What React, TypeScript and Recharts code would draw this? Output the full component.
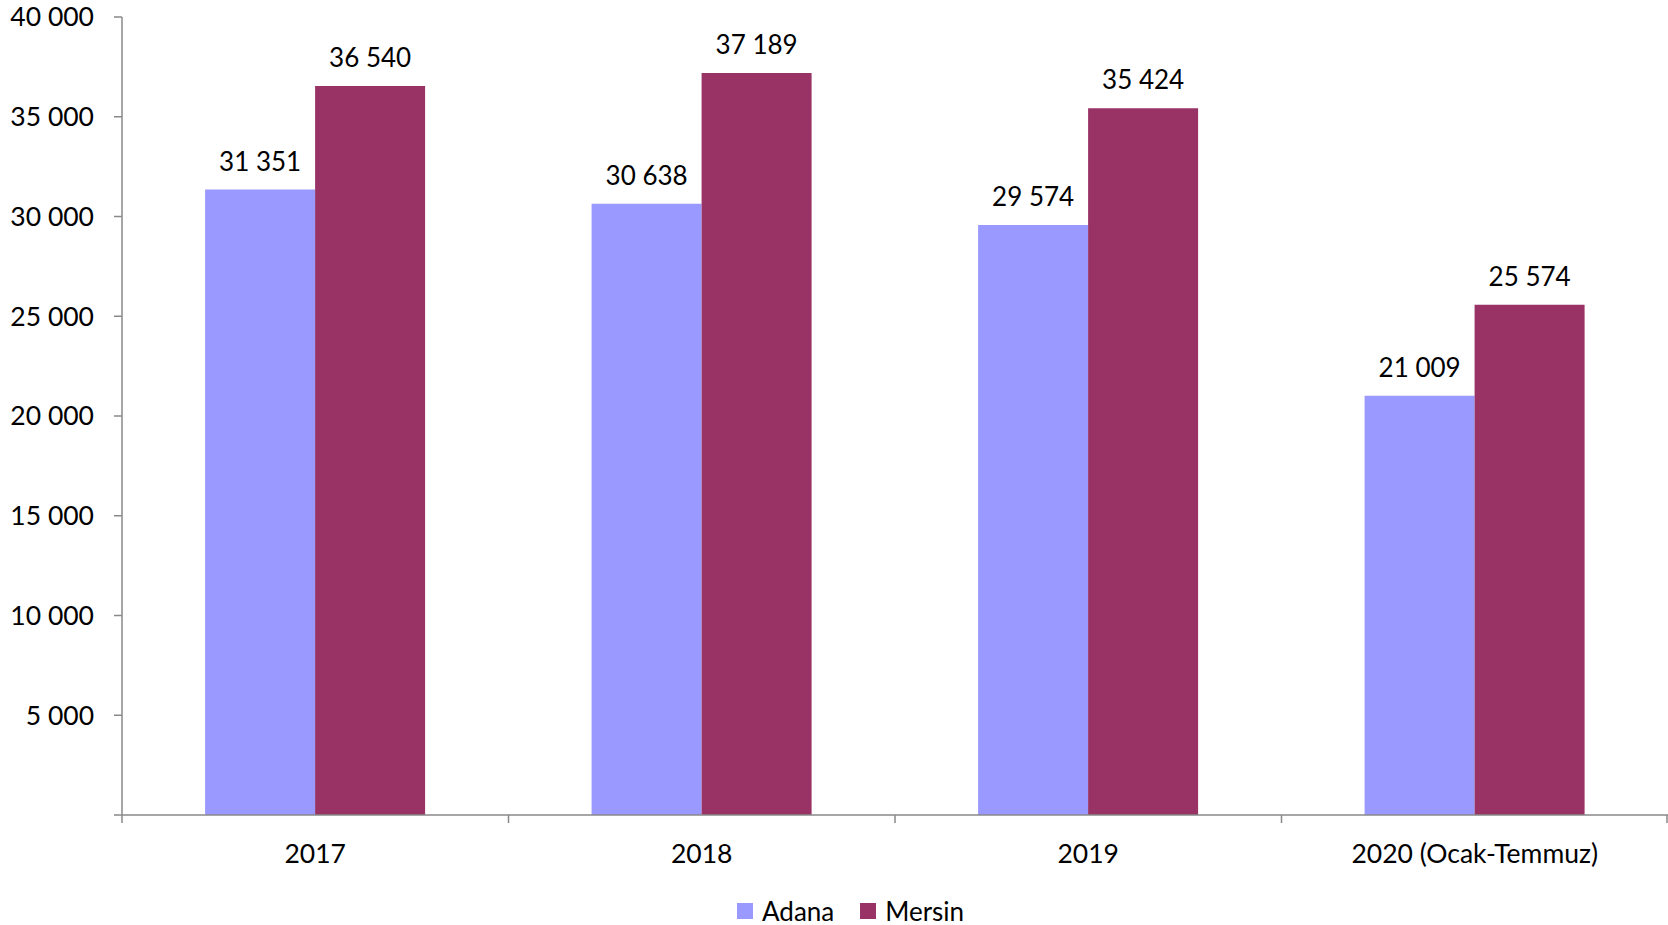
import React from 'react'
import { BarChart, Bar, XAxis, YAxis, Legend, LabelList } from 'recharts'

const categories = ['2017', '2018', '2019', '2020 (Ocak-Temmuz)']
const adana = [31351, 30638, 29574, 21009]
const mersin = [36540, 37189, 35424, 25574]
const yTicks = [0, 5000, 10000, 15000, 20000, 25000, 30000, 35000, 40000]

const W = 1668
const H = 925
const Y_AXIS_W = 122
const TICK_SIZE = 8
const TICK_MARGIN = 20
const FONT = 'Lato, "Open Sans", sans-serif'
const AXIS_COLOR = '#898989'
const ADANA_COLOR = '#9999FF'
const MERSIN_COLOR = '#993366'

const data = categories.map((name, i) => ({ name, Adana: adana[i], Mersin: mersin[i] }))

const fmt = (v: number) => String(v).replace(/\B(?=(\d{3})+(?!\d))/g, ' ')

const bandWidth = (W - Y_AXIS_W) / categories.length

function XTick(props: any) {
  const { x, y, payload, index } = props
  const axisY = y - TICK_MARGIN - TICK_SIZE
  const left = x - bandWidth / 2
  return (
    <g>
      <line x1={left} x2={left} y1={axisY} y2={axisY + TICK_SIZE} stroke={AXIS_COLOR} strokeWidth={1.5} />
      {index === categories.length - 1 && (
        <line x1={x + bandWidth / 2 - 1} x2={x + bandWidth / 2 - 1} y1={axisY} y2={axisY + TICK_SIZE} stroke={AXIS_COLOR} strokeWidth={1.5} />
      )}
      <text x={x} y={y + 1} dy="0.71em" textAnchor="middle" fontFamily={FONT} fontSize={26.5} fill="#000">
        {payload.value}
      </text>
    </g>
  )
}

function LegendContent() {
  const items = [
    { label: 'Adana', color: ADANA_COLOR },
    { label: 'Mersin', color: MERSIN_COLOR },
  ]
  return (
    <div style={{ display: 'flex', alignItems: 'center', fontFamily: FONT, fontSize: 26, color: '#000' }}>
      {items.map((it) => (
        <div key={it.label} style={{ display: 'flex', alignItems: 'center', marginRight: 26 }}>
          <span style={{ width: 16, height: 16, background: it.color, display: 'inline-block', marginRight: 9 }} />
          <span>{it.label}</span>
        </div>
      ))}
    </div>
  )
}

export default function App() {
  return (
    <div style={{ position: 'absolute', left: 0, top: 0, background: '#fff' }}>
      <BarChart
        width={W}
        height={H}
        data={data}
        margin={{ top: 17, right: 0, bottom: 40, left: 0 }}
        barCategoryGap="21.5%"
        barGap={0}
      >
        <YAxis
          width={Y_AXIS_W}
          domain={[0, 40000]}
          ticks={yTicks}
          interval={0}
          tickFormatter={(v: number) => (v === 0 ? '' : fmt(v))}
          axisLine={{ stroke: AXIS_COLOR, strokeWidth: 1.5 }}
          tickLine={{ stroke: AXIS_COLOR, strokeWidth: 1.5 }}
          tickSize={TICK_SIZE}
          tickMargin={TICK_MARGIN}
          tick={{ fontFamily: FONT, fontSize: 26.5, fill: '#000' }}
        />
        <XAxis
          dataKey="name"
          height={70}
          interval={0}
          axisLine={{ stroke: AXIS_COLOR, strokeWidth: 1.5 }}
          tickLine={false}
          tickSize={TICK_SIZE}
          tickMargin={TICK_MARGIN}
          tick={<XTick />}
        />
        <Legend
          verticalAlign="middle"
          layout="horizontal"
          content={<LegendContent />}
          wrapperStyle={{ top: 895, left: 737, width: 'auto', height: 32 }}
        />
        <Bar dataKey="Adana" fill={ADANA_COLOR} isAnimationActive={false}>
          <LabelList
            dataKey="Adana"
            position="top"
            offset={19}
            formatter={(v: any) => fmt(Number(v))}
            style={{ fontFamily: FONT, fontSize: 26, fill: '#000' }}
          />
        </Bar>
        <Bar dataKey="Mersin" fill={MERSIN_COLOR} isAnimationActive={false}>
          <LabelList
            dataKey="Mersin"
            position="top"
            offset={19}
            formatter={(v: any) => fmt(Number(v))}
            style={{ fontFamily: FONT, fontSize: 26, fill: '#000' }}
          />
        </Bar>
      </BarChart>
    </div>
  )
}
